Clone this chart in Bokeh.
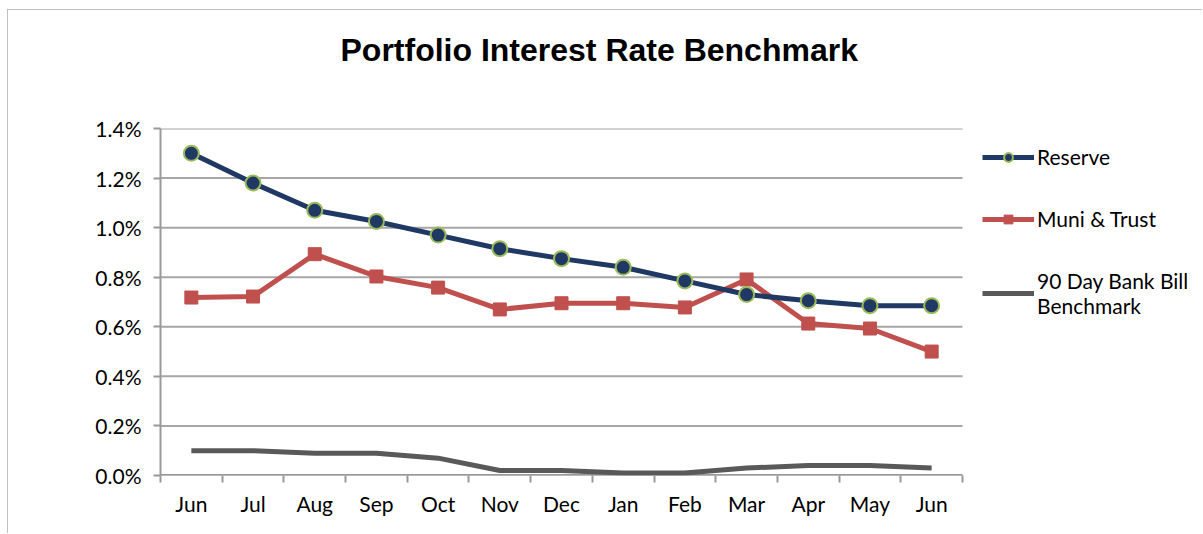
from bokeh.plotting import figure
from bokeh.models import (ColumnDataSource, FixedTicker, PrintfTickFormatter, Legend, LegendItem, Range1d, Title)
from bokeh.embed import file_html
from bokeh.resources import INLINE

months = ["Jun", "Jul", "Aug", "Sep", "Oct", "Nov", "Dec", "Jan", "Feb", "Mar", "Apr", "May", "Jun"]
reserve = [1.30, 1.18, 1.07, 1.025, 0.97, 0.915, 0.875, 0.84, 0.785, 0.73, 0.705, 0.685, 0.685]
muni = [0.718, 0.722, 0.893, 0.803, 0.758, 0.670, 0.695, 0.695, 0.678, 0.791, 0.613, 0.593, 0.500]
bank_bill = [0.10, 0.10, 0.09, 0.09, 0.07, 0.02, 0.02, 0.01, 0.01, 0.03, 0.04, 0.04, 0.03]
y_ticks = [0.0, 0.2, 0.4, 0.6, 0.8, 1.0, 1.2, 1.4]

n = len(months)
xs = [i + 0.5 for i in range(n)]
src = ColumnDataSource(dict(x=xs, reserve=reserve, muni=muni, bank=bank_bill))
grid_src = ColumnDataSource(dict(y=y_ticks, x0=[0] * len(y_ticks), x1=[n] * len(y_ticks)))

FONT = "Lato"
FIG_W, FIG_H = 1195, 524
LEFT = 152
PLOT_W = 802  # width of the category area in px
frame_w = FIG_W - LEFT
x_end = n * frame_w / PLOT_W

p = figure(width=FIG_W, height=FIG_H, output_backend="svg", toolbar_location=None,
           x_range=Range1d(0, x_end), y_range=Range1d(0, 1.4),
           min_border_left=LEFT, min_border_right=0, min_border_top=118, min_border_bottom=59,
           outline_line_color=None, background_fill_color="white", border_fill_color="white")
p.styles = {"margin-left": "7px", "margin-top": "9px",
            "border-left": "1px solid #c0c0c0", "border-top": "1px solid #c0c0c0"}

# chart title (outermost in the above panel)
p.title.text = "Portfolio Interest Rate Benchmark"
p.title.align = "left"
p.title.vertical_align = "top"
p.title.text_font = "Liberation Sans"
p.title.text_font_style = "bold"
p.title.text_font_size = "32px"
p.title.text_color = "black"
p.title.offset = 180
p.title.standoff = 0

# spacer between the title and the plot area (innermost)
spacer = Title(text=" ", text_font_size="10px", standoff=46)
p.add_layout(spacer, "above")

# axes
p.xaxis.ticker = FixedTicker(ticks=xs, minor_ticks=list(range(n + 1)))
p.xaxis.major_label_overrides = {x: m for x, m in zip(xs, months)}
p.xaxis.major_tick_out = 0
p.xaxis.major_tick_in = 0
p.xaxis.minor_tick_out = 7
p.xaxis.minor_tick_in = 0
p.xaxis.minor_tick_line_color = "#999999"
p.xaxis.minor_tick_line_width = 2
p.xaxis.axis_line_color = None
p.xaxis.major_label_text_font = FONT
p.xaxis.major_label_text_font_size = "21px"
p.xaxis.major_label_text_color = "black"
p.xaxis.major_label_standoff = 8

p.yaxis.ticker = FixedTicker(ticks=y_ticks, minor_ticks=[])
p.yaxis.formatter = PrintfTickFormatter(format="%.1f%%")
p.yaxis.major_tick_out = 7
p.yaxis.major_tick_in = 0
p.yaxis.major_tick_line_color = "#999999"
p.yaxis.major_tick_line_width = 2
p.yaxis.minor_tick_line_color = None
p.yaxis.axis_line_color = "#999999"
p.yaxis.axis_line_width = 2
p.yaxis.major_label_text_font = FONT
p.yaxis.major_label_text_font_size = "21px"
p.yaxis.major_label_text_color = "black"
p.yaxis.major_label_standoff = 12

p.xgrid.grid_line_color = None
p.ygrid.grid_line_color = None

# horizontal gridlines limited to the category area
p.segment(x0="x0", x1="x1", y0="y", y1="y", source=grid_src, line_color="#a6a6a6", line_width=2)
p.segment(x0="x0", x1="x1", y0="y", y1="y", source=ColumnDataSource(dict(x0=[0], x1=[n], y=[0.0])),
          line_color="#999999", line_width=3)

NAVY = "#1f3864"
RED = "#c0504d"
GREY = "#595959"

l3 = p.line("x", "bank", source=src, line_color=GREY, line_width=5)
l2 = p.line("x", "muni", source=src, line_color=RED, line_width=5)
m2 = p.scatter("x", "muni", source=src, marker="square", size=13, fill_color=RED, line_color=RED)
l1 = p.line("x", "reserve", source=src, line_color=NAVY, line_width=5)
m1 = p.scatter("x", "reserve", source=src, marker="circle", size=15, fill_color=NAVY,
               line_color="#9bbb59", line_width=2)

legend = Legend(items=[
    LegendItem(label="Reserve", renderers=[l1, m1]),
    LegendItem(label="Muni & Trust", renderers=[l2, m2]),
    LegendItem(label="90 Day Bank Bill\nBenchmark", renderers=[l3]),
], location=(822, 157))
legend.margin = 0
legend.padding = 0
legend.spacing = 37
legend.glyph_width = 52
legend.glyph_height = 22
legend.label_height = 22
legend.label_standoff = 3
legend.label_text_font = FONT
legend.label_text_font_size = "21px"
legend.label_text_color = "black"
legend.border_line_color = None
legend.background_fill_alpha = 0
p.add_layout(legend, "center")

open("out.html", "w").write(file_html(p, INLINE))
